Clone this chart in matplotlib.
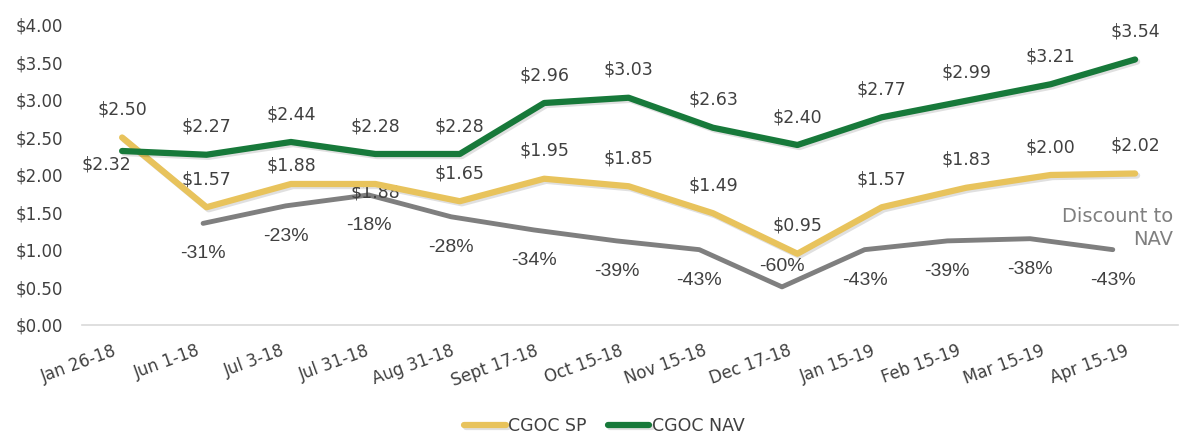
import matplotlib
matplotlib.use("Agg")
import matplotlib.pyplot as plt
import matplotlib.patheffects as pe
import matplotlib.transforms as mtransforms

# --- Data ---
dates = ['Jan 26-18', 'Jun 1-18', 'Jul 3-18', 'Jul 31-18', 'Aug 31-18', 'Sept 17-18',
         'Oct 15-18', 'Nov 15-18', 'Dec 17-18', 'Jan 15-19', 'Feb 15-19', 'Mar 15-19',
         'Apr 15-19']
nav = [2.32, 2.27, 2.44, 2.28, 2.28, 2.96, 3.03, 2.63, 2.40, 2.77, 2.99, 3.21, 3.54]
sp = [2.50, 1.57, 1.88, 1.88, 1.65, 1.95, 1.85, 1.49, 0.95, 1.57, 1.83, 2.00, 2.02]
# discount to NAV starts at Jun 1-18
discount = [-31, -23, -18, -28, -34, -39, -43, -60, -43, -39, -38, -43]

GREEN = '#17793a'
YELLOW = '#e8c35c'
GREY = '#7f7f7f'
TXT = '#404040'

fig = plt.figure(figsize=(11.9, 4.48), dpi=100)
pos = [0.069, 0.2746, 0.921, 0.6696]
ax = fig.add_axes(pos)

x = list(range(len(dates)))
shadow = [pe.SimpleLineShadow(offset=(1.5, -1.5), alpha=0.12), pe.Normal()]

ax.plot(x, sp, color=YELLOW, lw=4.5, solid_capstyle='round', label='CGOC SP',
        path_effects=shadow, zorder=3)
ax.plot(x, nav, color=GREEN, lw=4.5, solid_capstyle='round', label='CGOC NAV',
        path_effects=shadow, zorder=4)

# NAV labels (above, first one to the left)
for i, v in enumerate(nav):
    if i == 0:
        ax.annotate(f'${v:.2f}', (i, v), xytext=(-11, -10), textcoords='offset points',
                    ha='center', va='center', fontsize=12.5, color=TXT)
    else:
        ax.annotate(f'${v:.2f}', (i, v), xytext=(0, 20), textcoords='offset points',
                    ha='center', va='center', fontsize=12.5, color=TXT)

sp_dy = [20] * len(sp)
sp_dy[2] = 13
sp_dy[3] = -6
for i, v in enumerate(sp):
    ax.annotate(f'${v:.2f}', (i, v), xytext=(0, sp_dy[i]), textcoords='offset points',
                ha='center', va='center', fontsize=12.5, color=TXT, zorder=2)

ax.set_xlim(-0.474, 12.51)
ax.set_ylim(0, 4)
ax.set_yticks([0, 0.5, 1, 1.5, 2, 2.5, 3, 3.5, 4])
ax.set_yticklabels([f'${t:.2f}' for t in ax.get_yticks()])
ax.set_xticks(x)
ax.set_xticklabels(dates, rotation=20, ha='right', rotation_mode='anchor')
ax.tick_params(axis='both', length=0, labelsize=12, labelcolor=TXT)
ax.tick_params(axis='x', pad=12)
ax.tick_params(axis='y', pad=14)
shift = mtransforms.ScaledTranslation(-7 / 72, 0, fig.dpi_scale_trans)
for lab in ax.get_xticklabels():
    lab.set_transform(lab.get_transform() + shift)
for s in ['top', 'right', 'left']:
    ax.spines[s].set_visible(False)
ax.spines['bottom'].set_color('#d9d9d9')
ax.spines['bottom'].set_linewidth(1.2)

# Discount line on its own overlaid axes
ax2 = fig.add_axes(pos, frameon=False)
xd = list(range(1, len(dates)))
ax2.plot(xd, discount, color=GREY, lw=3.5, solid_capstyle='round', zorder=2)
pct_dy = [-22] * len(discount)
pct_dy[7] = 15
for xi, d, dy in zip(xd, discount, pct_dy):
    ax2.annotate(f'{d}%', (xi, d), xytext=(0, dy), textcoords='offset points',
                 ha='center', va='center', fontsize=14, color=TXT,
                 family='Liberation Sans')
ax2.set_xlim(-0.463, 12.79)
ax2.set_ylim(-77.4, 59.6)
ax2.set_xticks([])
ax2.set_yticks([])
ax2.set_zorder(ax.get_zorder() - 1)
ax.patch.set_visible(False)

fig.text(0.986, 0.491, 'Discount to\nNAV', ha='right', va='center', color=GREY,
         fontsize=14, linespacing=1.3)

ax.legend(loc='lower center', bbox_to_anchor=(0.508, -0.005), bbox_transform=fig.transFigure,
          ncol=2, frameon=False, fontsize=12.5, handlelength=2.4, handletextpad=0.15,
          columnspacing=1.2, labelcolor=TXT)

fig.savefig('out.png', dpi=100)
